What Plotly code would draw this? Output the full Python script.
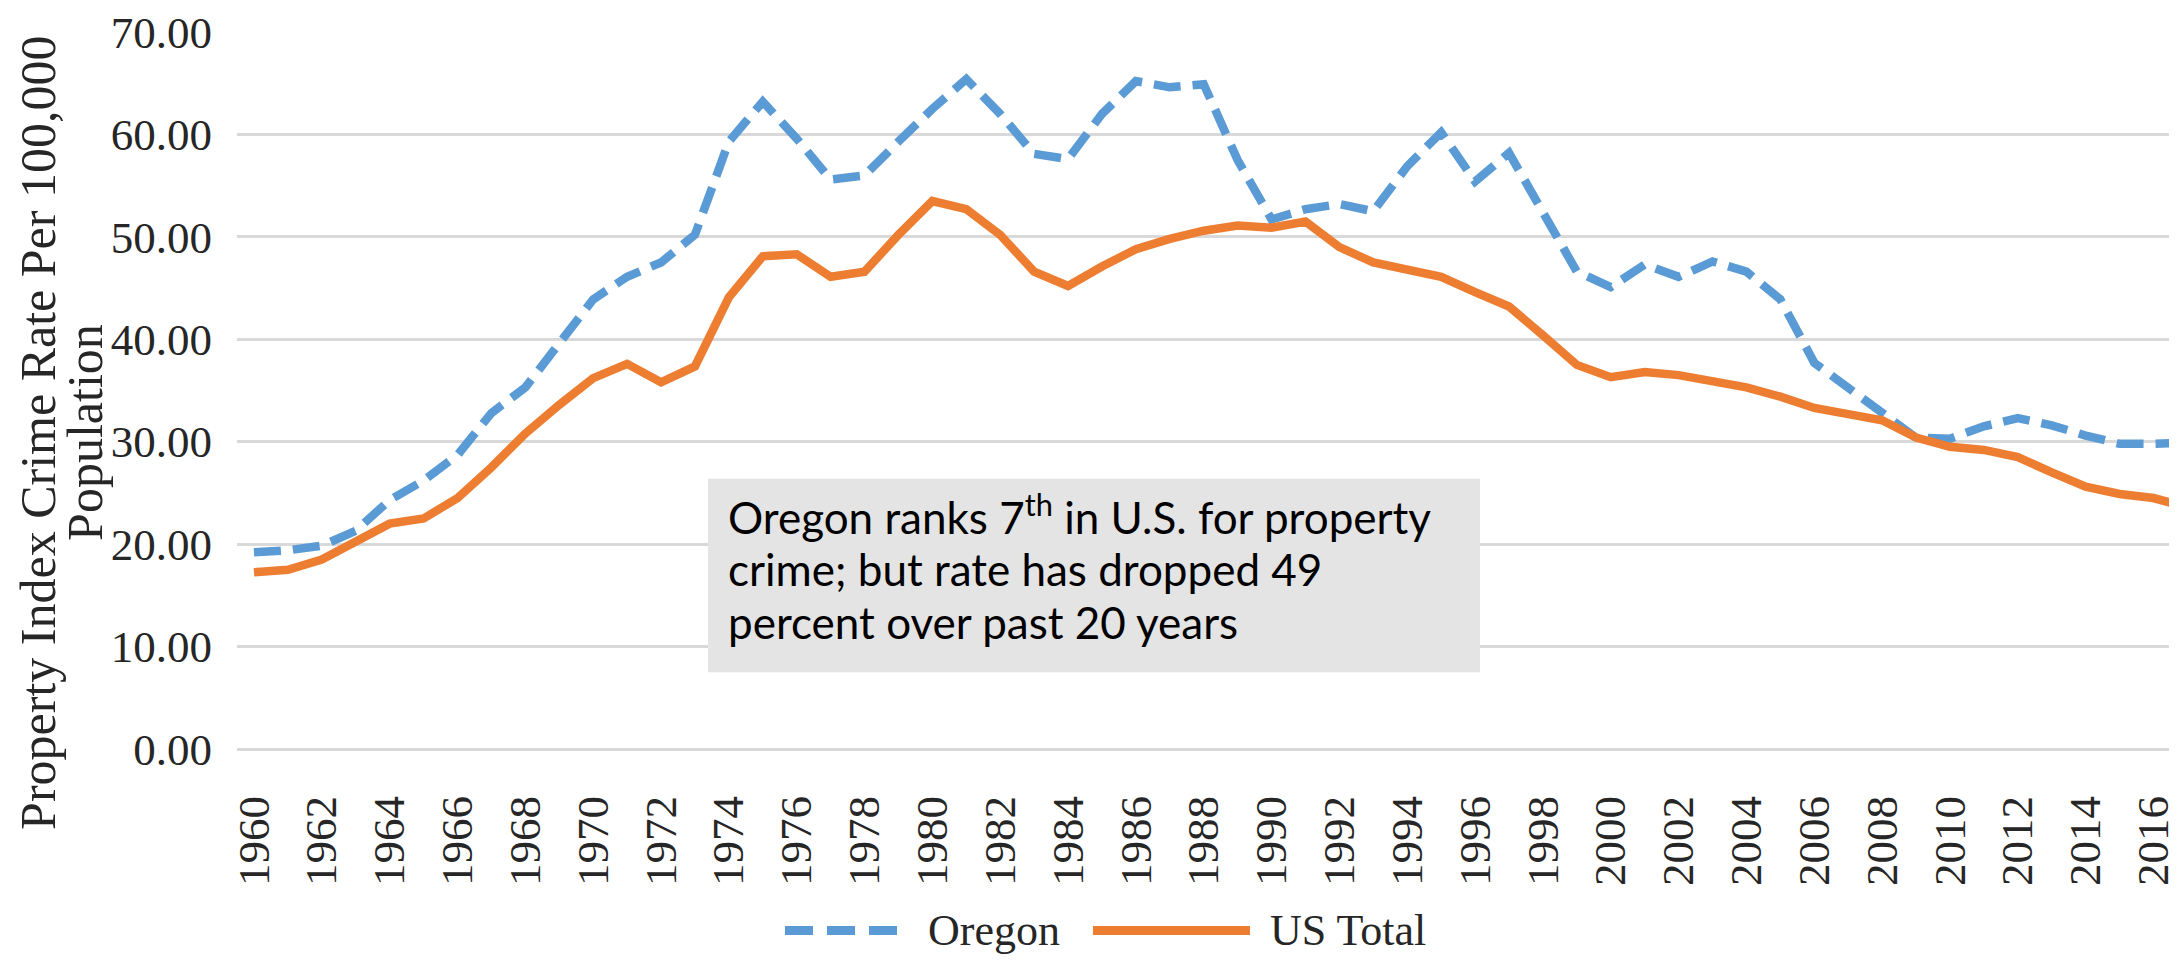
import plotly.graph_objects as go

# ---------------- data ----------------
years = list(range(1960, 2018))
oregon = [19.2, 19.4, 19.85, 21.3, 24.3, 26.2, 28.7, 32.8, 35.3, 39.7,
          43.9, 46.1, 47.5, 50.2, 59.3, 63.2, 59.6, 55.6, 56.0, 59.3,
          62.5, 65.4, 62.0, 58.1, 57.6, 62.0, 65.2, 64.6, 64.9, 57.5,
          51.7, 52.7, 53.2, 52.5, 56.9, 60.2, 55.4, 58.2, 52.5, 46.6,
          45.1, 47.3, 46.1, 47.6, 46.6, 43.9, 37.7, 35.3, 32.9, 30.4,
          30.3, 31.5, 32.3, 31.6, 30.6, 29.8, 29.8, 29.9]
us_total = [17.25, 17.5, 18.5, 20.2, 22.0, 22.5, 24.5, 27.5, 30.8, 33.6,
            36.2, 37.6, 35.8, 37.35, 44.1, 48.1, 48.3, 46.1, 46.6, 50.2,
            53.5, 52.7, 50.2, 46.6, 45.2, 47.1, 48.8, 49.8, 50.6, 51.1,
            50.9, 51.5, 49.0, 47.5, 46.8, 46.1, 44.6, 43.2, 40.4, 37.5,
            36.3, 36.8, 36.5, 36.0, 35.3, 34.4, 33.3, 32.7, 32.1, 30.4,
            29.5, 29.2, 28.5, 27.0, 25.6, 24.9, 24.5, 23.6]
x_tick_years = list(range(1960, 2017, 2))
x_tick_labels = [str(y) for y in x_tick_years]
y_tick_values = [0, 10, 20, 30, 40, 50, 60, 70]
series_names = ["Oregon", "US Total"]
y_title_lines = ["Property Index Crime Rate Per 100,000", "Population"]
note_lines = ["Oregon ranks 7<sup>th</sup> in U.S. for property",
              "crime; but rate has dropped 49",
              "percent over past 20 years"]

# ---------------- layout geometry (pixels) ----------------
W, H = 2177, 960
L, R, T, B = 229, 0, 22, 219
PW, PH = W - L - R, H - T - B
PX_PER_YEAR = 33.92
X_RANGE = [1959.5, 1959.5 + PW / PX_PER_YEAR]
Y_RANGE = [0, 70.0001]

def px_x(X):
    return (X - L) / PW

def px_y(Y):
    return (H - B - Y) / PH

BLUE = "#5B9BD5"
ORANGE = "#ED7D31"
SERIF = "Liberation Serif, Times New Roman, serif"
TXT = "#262626"

fig = go.Figure()
fig.add_trace(go.Scatter(x=years, y=oregon, name=series_names[0], mode="lines",
                         line=dict(color=BLUE, width=8.5, dash="27px,12px"),
                         showlegend=False))
fig.add_trace(go.Scatter(x=years, y=us_total, name=series_names[1], mode="lines",
                         line=dict(color=ORANGE, width=8.5),
                         showlegend=False))

fig.update_layout(
    width=W, height=H,
    margin=dict(l=L, r=R, t=T, b=B, pad=0),
    paper_bgcolor="white", plot_bgcolor="white",
    showlegend=False,
)
fig.update_xaxes(
    range=X_RANGE,
    tickmode="array", tickvals=x_tick_years, ticktext=x_tick_labels,
    tickangle=-90, tickfont=dict(family=SERIF, size=45, color=TXT),
    ticks="", showgrid=False, zeroline=False, showline=False,
    ticklabelstandoff=37, ticklabeloverflow="allow",
)
fig.update_yaxes(
    range=Y_RANGE,
    tickmode="array", tickvals=y_tick_values, tickformat=".2f",
    tickfont=dict(family=SERIF, size=45, color=TXT),
    ticks="", showgrid=True, gridcolor="#D9D9D9", gridwidth=2.5,
    zeroline=True, zerolinecolor="#D9D9D9", zerolinewidth=2.5,
    showline=False, ticklabelstandoff=24, ticklabeloverflow="allow",
)

# y-axis title (two lines, both centred on the same height)
for line_text, xc in zip(y_title_lines, [30, 77]):
    fig.add_annotation(
        text=line_text, textangle=-90,
        xref="paper", yref="paper", x=px_x(xc), y=px_y(424),
        xanchor="center", yanchor="middle", showarrow=False,
        font=dict(family=SERIF, size=50, color=TXT), align="center",
    )

# note box
fig.add_shape(type="rect", xref="paper", yref="paper",
              x0=px_x(700), x1=px_x(1472), y0=px_y(664), y1=px_y(470),
              fillcolor="#E4E4E4", line=dict(width=0), layer="above")
for line_text, yc in zip(note_lines, [506, 560, 614]):
    fig.add_annotation(
        text=line_text, xref="paper", yref="paper",
        x=px_x(718), y=px_y(yc), xanchor="left", yanchor="middle",
        showarrow=False, align="left",
        font=dict(family="Lato, Open Sans, sans-serif", size=44, color="#000000"),
    )

# legend (drawn manually to match long line samples)
leg_y = px_y(923)
fig.add_shape(type="line", xref="paper", yref="paper",
              x0=px_x(777), x1=px_x(891), y0=leg_y, y1=leg_y,
              line=dict(color=BLUE, width=9, dash="28px,14px"))
fig.add_shape(type="line", xref="paper", yref="paper",
              x0=px_x(1085), x1=px_x(1242), y0=leg_y, y1=leg_y,
              line=dict(color=ORANGE, width=9))
fig.add_annotation(text=series_names[0], xref="paper", yref="paper",
                   x=px_x(918), y=leg_y, xanchor="left", yanchor="middle",
                   showarrow=False, font=dict(family=SERIF, size=44, color=TXT))
fig.add_annotation(text=series_names[1], xref="paper", yref="paper",
                   x=px_x(1260), y=leg_y, xanchor="left", yanchor="middle",
                   showarrow=False, font=dict(family=SERIF, size=44, color=TXT))

fig.write_html("out.html")
